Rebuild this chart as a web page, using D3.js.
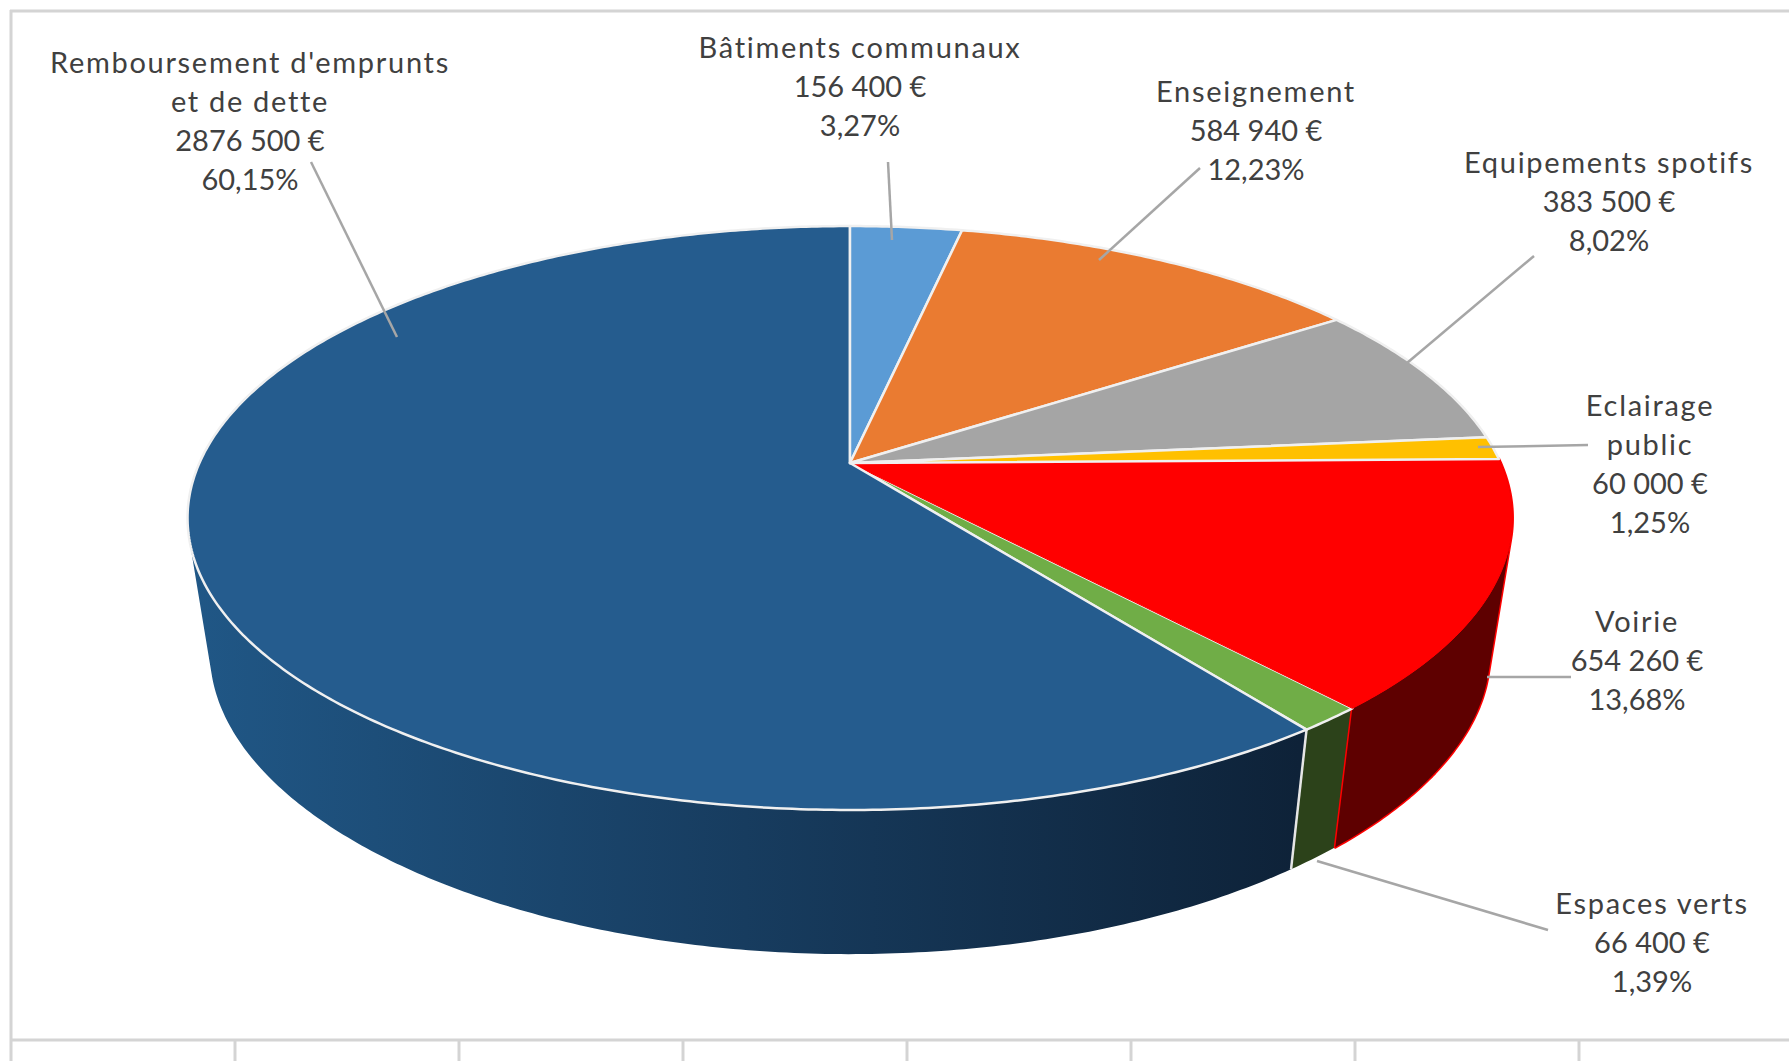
<!DOCTYPE html>
<html lang="fr">
  <head>
  <meta charset="utf-8"/>
    <script src="https://cdnjs.cloudflare.com/ajax/libs/d3/7.8.5/d3.min.js"></script>
    <style>
      html, body { margin: 0; padding: 0; background: #fff; overflow: hidden; }
      svg { display: block; }
      text { font-family: Lato, "Open Sans", sans-serif; font-size: 29px; fill: #404040; text-anchor: middle; }
      .name { letter-spacing: 1.7px; }
    </style>
  </head>
  <body>
<svg class="chart"></svg>
    <script>

// the values
var categories = ["Bâtiments communaux", "Enseignement", "Equipements spotifs", "Eclairage|public", "Voirie", "Espaces verts", "Remboursement d'emprunts|et de dette"];
var amounts = [156400, 584940, 383500, 60000, 654260, 66400, 2876500];
var percents = ["3,27%", "12,23%", "8,02%", "1,25%", "13,68%", "1,39%", "60,15%"];

// styles and label layout, same order as the categories
var topColors = ["#5b9bd5", "#ea7b31", "#a5a5a5", "#ffc000", "#ff0000", "#70ad47", "#255c8e"];
var sideColors = ["#375d80", "#8c4a1d", "#636363", "#997300", "#5e0000", "#2c421a", "url(#blueSide)"];
var topOrder = [5, 4, 6, 0, 1, 2, 3]; // red has to sit over green, yellow over red
var sideOrder = [0, 1, 2, 3, 6, 5, 4];
var labelX = [860, 1256, 1609, 1650, 1637, 1652, 250];
var labelY = [58, 102, 173, 416, 632, 914, 73];
var leaders = [
  [[888, 162], [892, 240]],
  [[1200, 168], [1099, 260]],
  [[1534, 256], [1407, 363]],
  [[1588, 445], [1478, 447]],
  [[1571, 677], [1487, 677]],
  [[1548, 930], [1317, 861]],
  [[311, 162], [397, 337]]
];
var gridX = [235, 459, 683, 907, 1131, 1355, 1579];

var width = 1789, height = 1061;
var lineHeight = 39;

// the pie is flat on a tilted plane, so project each angle with a bit of perspective
// kx and ky only differ on the lower rim, fitted by eye to the seams and the silhouette
var topDisc = {x: 850, y: 463, a: 650.6, b: 281.6, kx: 0.1884, ky: 0.1884};
var bottomDisc = {x: 850, y: 599, a: 628.5, b: 277, kx: 0.1884, ky: 0.22};

function project(disc, angle) {
  var u = Math.sin(angle);
  var v = -Math.cos(angle);
  return [disc.x + disc.a * u / (1 - disc.kx * v), disc.y + disc.b * v / (1 - disc.ky * v)];
}

function arcAngles(s) {
  var n = Math.max(2, Math.ceil((s.endAngle - s.startAngle) / 0.01));
  return d3.range(n + 1).map(function(i) { return s.startAngle + (s.endAngle - s.startAngle) * i / n; });
}

var line = d3.line();

function topPath(s) {
  var pts = arcAngles(s).map(function(a) { return project(topDisc, a); });
  pts.unshift([topDisc.x, topDisc.y]);
  return line(pts) + "Z";
}

// the wall of a slice: one small quad per step, so the outline follows the tangent
// every quad is wound the same way, otherwise overlaps at the silhouette cancel out
function sidePath(s) {
  var as = arcAngles(s);
  var path = "";
  for (var i = 0; i < as.length - 1; i++) {
    var quad = [project(topDisc, as[i]), project(topDisc, as[i + 1]), project(bottomDisc, as[i + 1]), project(bottomDisc, as[i])];
    if (d3.polygonArea(quad) < 0) quad.reverse();
    path += line(quad) + "Z";
  }
  return path;
}

function money(v) {
  return Math.floor(v / 1000) + " " + d3.format("03d")(v % 1000) + " €";
}

var slices = d3.pie().sort(null).value(function(d) { return d; })(amounts);

var chart = d3.select(".chart")
  .attr("width", width)
  .attr("height", height);

var grad = chart.append("defs").append("linearGradient")
  .attr("id", "blueSide")
  .attr("gradientUnits", "userSpaceOnUse")
  .attr("x1", 190).attr("x2", 1300).attr("y1", 0).attr("y2", 0);
grad.append("stop").attr("offset", 0).attr("stop-color", "#205786");
grad.append("stop").attr("offset", 0.5).attr("stop-color", "#173c5f");
grad.append("stop").attr("offset", 1).attr("stop-color", "#0e2238");

// sheet gridlines behind the chart
var gridColor = "#d4d4d4";
chart.append("line").attr("x1", 11).attr("x2", 11).attr("y1", 10).attr("y2", height)
  .attr("stroke", gridColor).attr("stroke-width", 3);
chart.append("line").attr("x1", 10).attr("x2", width).attr("y1", 11).attr("y2", 11)
  .attr("stroke", gridColor).attr("stroke-width", 3);
chart.append("line").attr("x1", 10).attr("x2", width).attr("y1", 1040).attr("y2", 1040)
  .attr("stroke", gridColor).attr("stroke-width", 3);
chart.selectAll("line.tick").data(gridX).enter().append("line")
  .attr("class", "tick")
  .attr("x1", function(d) { return d; })
  .attr("x2", function(d) { return d; })
  .attr("y1", 1040).attr("y2", height)
  .attr("stroke", gridColor).attr("stroke-width", 3);

// walls first
sideOrder.forEach(function(i) {
  var s = slices[i];
  if (i === 4) {
    // the red wall has a thin bright outline
    chart.append("path").attr("d", sidePath(s)).attr("fill", "#ff0000")
      .attr("stroke", "#ff0000").attr("stroke-width", 3).attr("stroke-linejoin", "round");
  }
  chart.append("path").attr("d", sidePath(s)).attr("fill", sideColors[i]);
});

// white seam between blue and green walls
var seam = slices[5].endAngle;
chart.append("path")
  .attr("d", line([project(topDisc, seam), project(bottomDisc, seam)]))
  .attr("stroke", "#e6e6e6").attr("stroke-width", 2.5).attr("fill", "none");

// top of the pie
topOrder.forEach(function(i) {
  chart.append("path")
    .attr("d", topPath(slices[i]))
    .attr("fill", topColors[i])
    .attr("stroke", i === 4 ? "#ff0000" : "#f0f0f0")
    .attr("stroke-width", i === 4 ? 1 : 2.5)
    .attr("stroke-linejoin", "round");
});

chart.selectAll("path.leader").data(leaders).enter().append("path")
  .attr("class", "leader")
  .attr("d", function(d) { return line(d); })
  .attr("fill", "none")
  .attr("stroke", "#a6a6a6")
  .attr("stroke-width", 2.5);

categories.forEach(function(name, i) {
  var rows = name.split("|");
  var all = rows.concat([money(amounts[i]), percents[i]]);
  all.forEach(function(t, j) {
    chart.append("text")
      .attr("class", j < rows.length ? "name" : "num")
      .attr("x", labelX[i])
      .attr("y", labelY[i] + j * lineHeight)
      .text(t);
  });
});
    </script>
  </body>
</html>
